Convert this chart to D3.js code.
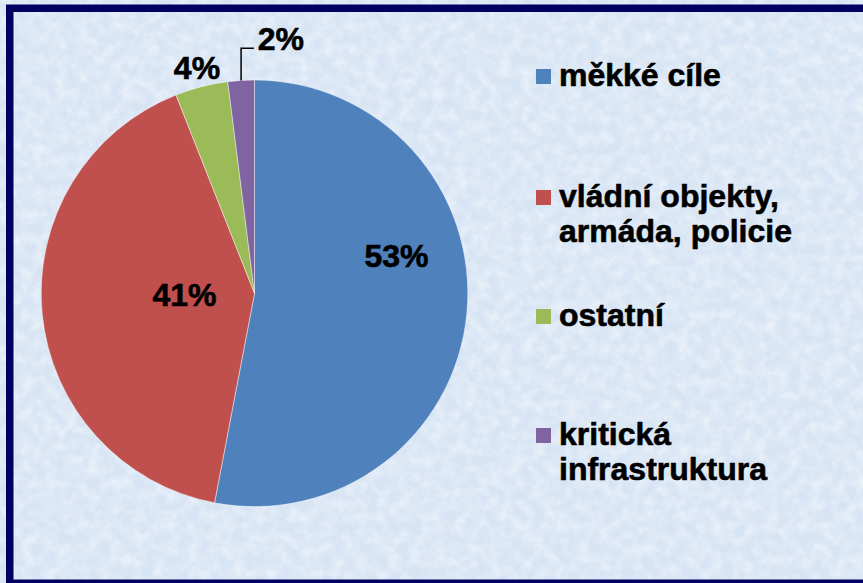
<!DOCTYPE html>
<html>
<head>
<meta charset="utf-8">
<script src="https://cdn.jsdelivr.net/npm/d3@7"></script>
<style>
  html, body { margin: 0; padding: 0; background: #dae7f5; }
  svg { display: block; }
</style>
</head>
<body>
<svg id="chart" width="863" height="583"></svg>
<script>
// chart data
var categories = ['měkké cíle', 'vládní objekty, armáda, policie', 'ostatní', 'kritická infrastruktura'];
var legendLines = [['měkké cíle'], ['vládní objekty,', 'armáda, policie'], ['ostatní'], ['kritická', 'infrastruktura']];
var values = [53, 41, 4, 2];
var colors = ['#4f81bd', '#c0504d', '#9bbb59', '#8064a2'];

// label placement (angle in degrees clockwise from top, distance from centre)
var labelAt = [[75, 147], [269, 70], [-14.3, 233], [5.9, 256]];

var width = 863,
    height = 583,
    cx = 254.5,
    cy = 293.3,
    radius = 213.3,
    font = 'Arial, "Liberation Sans", sans-serif';

var svg = d3.select('#chart');
var defs = svg.append('defs');

// mottled paper texture
var tex = defs.append('filter')
    .attr('id', 'paper')
    .attr('x', 0).attr('y', 0).attr('width', '100%').attr('height', '100%');
tex.append('feTurbulence')
    .attr('type', 'fractalNoise')
    .attr('baseFrequency', 0.09)
    .attr('numOctaves', 4)
    .attr('seed', 7);
tex.append('feColorMatrix')
    .attr('type', 'matrix')
    .attr('values', '0 0 0 0 1  0 0 0 0 1  0 0 0 0 1  1.4 0 0 0 -0.45');

svg.append('rect')
    .attr('width', width)
    .attr('height', height)
    .attr('fill', '#d7e4f4');

svg.append('rect')
    .attr('width', width)
    .attr('height', height)
    .attr('fill', '#fff')
    .attr('filter', 'url(#paper)')
    .attr('opacity', 0.6);

// frame (open on the right, runs past the edge)
svg.append('rect')
    .attr('x', 9.75)
    .attr('y', 8.25)
    .attr('width', 900)
    .attr('height', 575)
    .attr('fill', 'none')
    .attr('stroke', '#000060')
    .attr('stroke-width', 7.5);

var pie = d3.pie().sort(null).value(function(d) { return d; });
var arcs = pie(values);

var arc = d3.arc().innerRadius(0).outerRadius(radius);

var g = svg.append('g')
    .attr('transform', 'translate(' + [cx, cy] + ')');

g.selectAll('path.slice')
    .data(arcs)
  .enter().append('path')
    .attr('class', 'slice')
    .attr('d', arc)
    .attr('fill', function(d, i) { return colors[i]; })
    .attr('stroke', 'rgba(255,255,255,0.55)')
    .attr('stroke-width', 0.8);

function polar(a, r) {
  var rad = a * Math.PI / 180;
  return [r * Math.sin(rad), -r * Math.cos(rad)];
}

var fmt = function(v) { return v + '%'; };

g.selectAll('text.pct')
    .data(arcs)
  .enter().append('text')
    .attr('class', 'pct')
    .attr('text-anchor', 'middle')
    .attr('dy', '0.36em')
    .attr('font-family', font)
    .attr('font-weight', 700)
    .attr('font-size', 32)
    .attr('stroke', '#000')
    .attr('stroke-width', 0.6)
    .attr('x', function(d, i) { return polar(labelAt[i][0], labelAt[i][1])[0]; })
    .attr('y', function(d, i) { return polar(labelAt[i][0], labelAt[i][1])[1]; })
    .text(function(d) { return fmt(d.data); });

// leader line for the smallest slice
var small = arcs[3];
var mid = (small.startAngle + small.endAngle) / 2 * 180 / Math.PI;
var p0 = polar(mid, radius);
var lp = polar(labelAt[3][0], labelAt[3][1]);
g.append('path')
    .attr('d', d3.line()([p0, [p0[0], lp[1] + 9.5], [lp[0] - 27, lp[1] + 9.5]]))
    .attr('fill', 'none')
    .attr('stroke', '#000')
    .attr('stroke-width', 1.5);

// legend
var legendY = [86, 207, 326, 445];
var legend = svg.append('g').attr('class', 'legend');

var item = legend.selectAll('g')
    .data(categories)
  .enter().append('g')
    .attr('transform', function(d, i) { return 'translate(536,' + legendY[i] + ')'; });

item.append('rect')
    .attr('x', 0)
    .attr('y', -17)
    .attr('width', 15)
    .attr('height', 15)
    .attr('fill', function(d, i) { return colors[i]; });

item.append('text')
    .attr('x', 23)
    .attr('font-family', font)
    .attr('font-weight', 700)
    .attr('font-size', 32)
    .attr('stroke', '#000')
    .attr('stroke-width', 0.6)
    .selectAll('tspan')
    .data(function(d, i) { return legendLines[i]; })
  .enter().append('tspan')
    .attr('x', 23)
    .attr('dy', function(d, j) { return j ? 35 : 0; })
    .text(function(d) { return d; });
</script>
</body>
</html>
